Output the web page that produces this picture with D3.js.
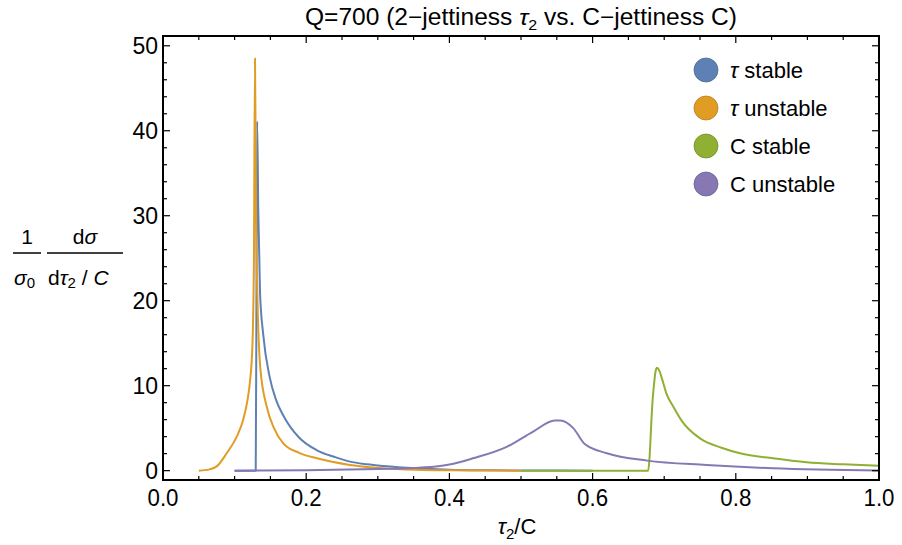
<!DOCTYPE html>
<html>
<head>
<meta charset="utf-8">
<script src="https://cdn.jsdelivr.net/npm/d3@7"></script>
<style>
  body { margin: 0; background: #fff; }
  svg { display: block; }
</style>
</head>
<body>
<svg id="chart" width="902" height="545"></svg>
<script>
// values (x = tau2/C, y = 1/sigma0 dsigma/d(tau2/C))
const tauStable = [
  [0.100, 0], [0.1295, 0], [0.1305, 20], [0.1315, 41.1], [0.133, 31], [0.1355, 21],
  [0.140, 16], [0.149, 11], [0.158, 8.3], [0.168, 6.5], [0.19, 3.9], [0.215, 2.4],
  [0.24, 1.6], [0.261, 1.06], [0.285, 0.75], [0.308, 0.55], [0.354, 0.28],
  [0.40, 0.12], [0.45, 0.05], [0.50, 0.02], [0.60, 0.0]
];
const tauUnstable = [
  [0.050, 0], [0.065, 0.15], [0.075, 0.5], [0.089, 2.05], [0.103, 4.0], [0.112, 6.0],
  [0.118, 8.3], [0.1215, 10.5], [0.125, 15], [0.127, 25], [0.1285, 48.5], [0.1300, 30],
  [0.132, 20], [0.136, 12], [0.145, 7.5], [0.155, 5.0], [0.168, 3.2], [0.19, 2.1],
  [0.215, 1.45], [0.261, 0.67], [0.307, 0.28], [0.354, 0.1], [0.40, 0.04], [0.50, 0.0]
];
const cStable = [
  [0.500, 0], [0.6775, 0], [0.684, 8.5], [0.688, 11.7], [0.690, 12.1], [0.693, 11.8],
  [0.697, 10.8], [0.703, 9.1], [0.713, 7.5], [0.725, 5.8], [0.750, 3.8], [0.78, 2.7],
  [0.806, 2.05], [0.852, 1.45], [0.899, 0.98], [0.95, 0.75], [1.0, 0.58]
];
const cUnstable = [
  [0.100, 0], [0.20, 0.05], [0.30, 0.2], [0.35, 0.32], [0.387, 0.55], [0.40, 0.72],
  [0.433, 1.45], [0.48, 2.8], [0.517, 4.6], [0.547, 5.9], [0.555, 5.9], [0.573, 5.0],
  [0.589, 3.14], [0.620, 2.05], [0.676, 1.18], [0.759, 0.67], [0.852, 0.28], [1.0, 0.03]
];

const seriesNames = ['\u03C4 stable', '\u03C4 unstable', 'C stable', 'C unstable'];
const seriesColors = ['#5E81B5', '#E19C24', '#8FB032', '#8778B3'];
const seriesData = [tauStable, tauUnstable, cStable, cUnstable];

const xTicks = [0, 0.2, 0.4, 0.6, 0.8, 1.0];
const yTicks = [0, 10, 20, 30, 40, 50];

const svg = d3.select('#chart');
const margin = { top: 36, right: 23, bottom: 65, left: 163 };
const width = 902 - margin.left - margin.right;
const height = 545 - margin.top - margin.bottom;

const x = d3.scaleLinear().domain([0, 1]).range([0, width]);
const y = d3.scaleLinear().domain([-1.1, 51.15]).range([height, 0]);

const g = svg.append('g').attr('transform', `translate(${margin.left},${margin.top})`);

g.append('clipPath').attr('id', 'clip')
  .append('rect').attr('width', width).attr('height', height);

// curves
const line = d3.line()
  .x(d => x(d[0]))
  .y(d => y(d[1]))
  .curve(d3.curveMonotoneX);

const plot = g.append('g').attr('clip-path', 'url(#clip)');
seriesData.forEach((data, i) => {
  plot.append('path')
    .datum(data)
    .attr('d', line)
    .attr('fill', 'none')
    .attr('stroke', seriesColors[i])
    .attr('stroke-width', 2)
    .attr('stroke-linejoin', 'round');
});

// frame with inward ticks
const tickFont = '"Liberation Sans", Arial, sans-serif';
const axisG = g.append('g');

const xMinor = d3.range(0, 1.0001, 0.05);
const yMinor = d3.range(0, 51, 2);

xMinor.forEach(v => {
  const major = xTicks.some(t => Math.abs(t - v) < 1e-6);
  const len = major ? 7 : 4;
  axisG.append('line').attr('x1', x(v)).attr('x2', x(v))
    .attr('y1', height).attr('y2', height - len).attr('stroke', '#000').attr('stroke-width', 1.2);
  axisG.append('line').attr('x1', x(v)).attr('x2', x(v))
    .attr('y1', 0).attr('y2', len).attr('stroke', '#000').attr('stroke-width', 1.2);
});
yMinor.forEach(v => {
  const major = v % 10 === 0;
  const len = major ? 7 : 4;
  axisG.append('line').attr('x1', 0).attr('x2', len)
    .attr('y1', y(v)).attr('y2', y(v)).attr('stroke', '#000').attr('stroke-width', 1.2);
  axisG.append('line').attr('x1', width).attr('x2', width - len)
    .attr('y1', y(v)).attr('y2', y(v)).attr('stroke', '#000').attr('stroke-width', 1.2);
});

axisG.append('rect')
  .attr('width', width).attr('height', height)
  .attr('fill', 'none').attr('stroke', '#000').attr('stroke-width', 2);

axisG.selectAll('.xl').data(xTicks).enter().append('text')
  .attr('x', d => x(d)).attr('y', height + 26)
  .attr('text-anchor', 'middle')
  .style('font-family', tickFont).style('font-size', '23px')
  .attr('textLength', 31).attr('lengthAdjust', 'spacingAndGlyphs')
  .text(d => d.toFixed(1));

axisG.selectAll('.yl').data(yTicks).enter().append('text')
  .attr('x', -5).attr('y', d => y(d) + 8)
  .attr('text-anchor', 'end')
  .style('font-family', tickFont).style('font-size', '23px')
  .text(d => d);

// title
svg.append('text')
  .attr('x', 305).attr('y', 25)
  .attr('textLength', 432).attr('lengthAdjust', 'spacingAndGlyphs')
  .style('font-family', tickFont).style('font-size', '23px')
  .html('Q=700 (2\u2212jettiness <tspan font-style="italic">\u03C4</tspan><tspan font-size="15px" dy="5">2</tspan><tspan dy="-5"> vs. C\u2212jettiness C)</tspan>');

// x label
svg.append('text')
  .attr('x', 517).attr('y', 534)
  .attr('text-anchor', 'middle')
  .style('font-family', tickFont).style('font-size', '22px')
  .html('<tspan font-style="italic">\u03C4</tspan><tspan font-size="15px" dy="5">2</tspan><tspan dy="-5">/C</tspan>');

// y label (fraction)
const yl = svg.append('g').style('font-family', '"Liberation Sans", Arial, sans-serif').style('font-size', '21px');
yl.append('text').attr('x', 27).attr('y', 244).attr('text-anchor', 'middle').text('1');
yl.append('line').attr('x1', 13).attr('x2', 41).attr('y1', 253).attr('y2', 253).attr('stroke', '#000').attr('stroke-width', 1.5);
yl.append('text').attr('x', 14).attr('y', 285)
  .html('<tspan font-style="italic">\u03C3</tspan><tspan font-size="15px" dy="3">0</tspan>');
yl.append('text').attr('x', 85).attr('y', 244).attr('text-anchor', 'middle')
  .html('d<tspan font-style="italic">\u03C3</tspan>');
yl.append('line').attr('x1', 47).attr('x2', 123).attr('y1', 253).attr('y2', 253).attr('stroke', '#000').attr('stroke-width', 1.5);
yl.append('text').attr('x', 48).attr('y', 285)
  .html('d<tspan font-style="italic">\u03C4</tspan><tspan font-size="15px" dy="3">2</tspan><tspan dy="-3"> / </tspan><tspan font-style="italic">C</tspan>');

// legend
const legend = svg.append('g').attr('transform', 'translate(706,70)');
seriesNames.forEach((name, i) => {
  const row = legend.append('g').attr('transform', `translate(0,${i * 38})`);
  row.append('circle').attr('r', 12)
    .attr('fill', seriesColors[i])
    .attr('stroke', d3.color(seriesColors[i]).darker(0.6))
    .attr('stroke-width', 0.8);
  const t = row.append('text').attr('x', 24).attr('y', 8)
    .style('font-family', '"Liberation Sans", Arial, sans-serif').style('font-size', '22px');
  if (name.startsWith('\u03C4')) {
    t.html('<tspan font-style="italic">\u03C4</tspan>' + name.slice(1));
  } else {
    t.text(name);
  }
});
</script>
</body>
</html>
